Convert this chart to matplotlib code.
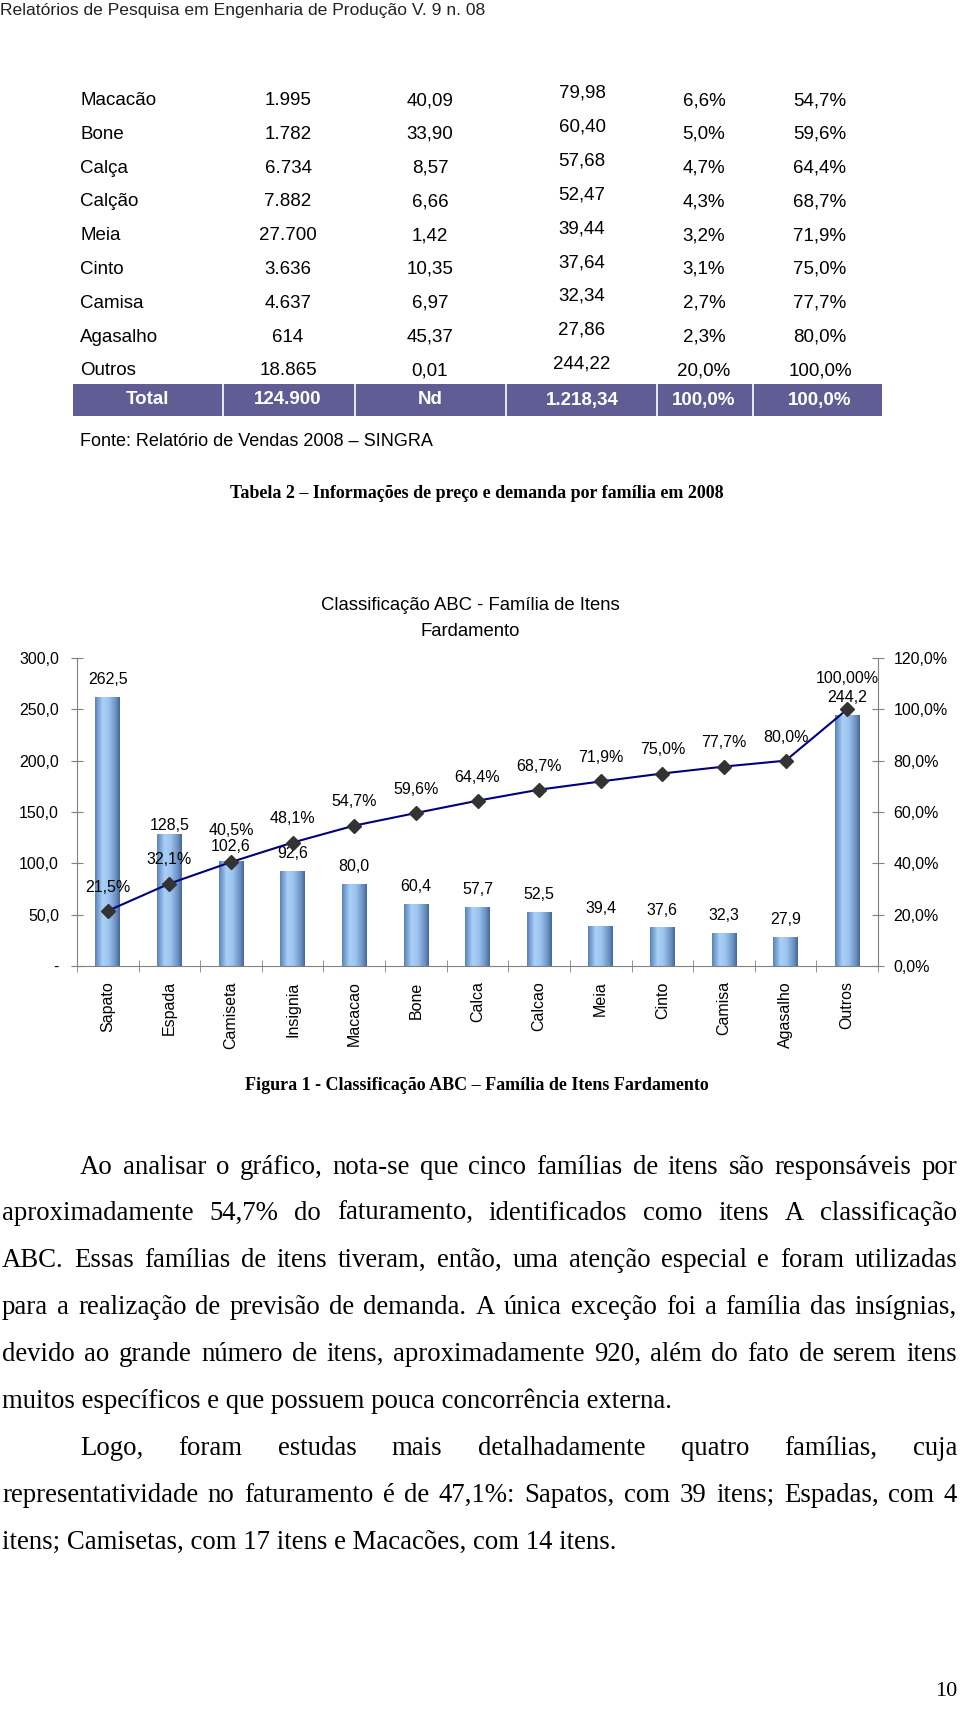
import numpy as np
import matplotlib
matplotlib.use("Agg")
import matplotlib.pyplot as plt
from matplotlib.colors import LinearSegmentedColormap

# ---- table data (Tabela 2) ----
tab_names = ["Macacão", "Bone", "Calça", "Calção", "Meia", "Cinto", "Camisa", "Agasalho", "Outros"]
tab_qtd = ["1.995", "1.782", "6.734", "7.882", "27.700", "3.636", "4.637", "614", "18.865"]
tab_preco = ["40,09", "33,90", "8,57", "6,66", "1,42", "10,35", "6,97", "45,37", "0,01"]
tab_fat = ["79,98", "60,40", "57,68", "52,47", "39,44", "37,64", "32,34", "27,86", "244,22"]
tab_pct = ["6,6%", "5,0%", "4,7%", "4,3%", "3,2%", "3,1%", "2,7%", "2,3%", "20,0%"]
tab_acum = ["54,7%", "59,6%", "64,4%", "68,7%", "71,9%", "75,0%", "77,7%", "80,0%", "100,0%"]
tab_total = ["Total", "124.900", "Nd", "1.218,34", "100,0%", "100,0%"]

# ---- chart data (Figura 1) ----
familias = ["Sapato", "Espada", "Camiseta", "Insignia", "Macacao", "Bone", "Calca",
            "Calcao", "Meia", "Cinto", "Camisa", "Agasalho", "Outros"]
faturamento = [262.5, 128.5, 102.6, 92.6, 80.0, 60.4, 57.7, 52.5, 39.4, 37.6, 32.3, 27.9, 244.2]
acumulado = [21.5, 32.1, 40.5, 48.1, 54.7, 59.6, 64.4, 68.7, 71.9, 75.0, 77.7, 80.0, 100.0]
acum_labels = ["21,5%", "32,1%", "40,5%", "48,1%", "54,7%", "59,6%", "64,4%", "68,7%",
               "71,9%", "75,0%", "77,7%", "80,0%", "100,00%"]

paragrafo1 = [
    "Ao analisar o gráfico, nota-se que cinco famílias de itens são responsáveis por",
    "aproximadamente 54,7% do faturamento, identificados como itens A classificação",
    "ABC. Essas famílias de itens tiveram, então, uma atenção especial e foram utilizadas",
    "para a realização de previsão de demanda.  A única exceção foi a família das insígnias,",
    "devido ao grande número de itens, aproximadamente 920, além do fato de serem itens",
    "muitos específicos e que possuem pouca concorrência externa.",
]
paragrafo2 = [
    "Logo, foram estudas mais detalhadamente quatro famílias, cuja",
    "representatividade no faturamento é de 47,1%: Sapatos, com 39 itens; Espadas, com 4",
    "itens; Camisetas, com 17 itens e Macacões, com 14 itens.",
]

W, H = 960, 1713
fig = plt.figure(figsize=(W / 100, H / 100), dpi=100)
sans = "Liberation Sans"
serif = "Liberation Serif"


def put(x, y, s, **kw):
    kw.setdefault("va", "center")
    return fig.text(x / W, 1 - y / H, s, **kw)


# header
put(0, 10, "Relatórios de Pesquisa em Engenharia de Produção V. 9 n. 08",
    family=sans, fontsize=12.6, ha="left", color="#222222")

# table body
row_y0, row_dy = 100.5, 33.8
col_x = [288, 430, 582, 704, 820]
for i in range(len(tab_names)):
    y = row_y0 + i * row_dy
    put(80, y, tab_names[i], family=sans, fontsize=13.5, ha="left")
    put(col_x[0], y, tab_qtd[i], family=sans, fontsize=13.5, ha="center")
    put(col_x[1], y, tab_preco[i], family=sans, fontsize=13.5, ha="center")
    put(col_x[2], y - 7, tab_fat[i], family=sans, fontsize=13.5, ha="center")
    put(col_x[3], y, tab_pct[i], family=sans, fontsize=13.5, ha="center")
    put(col_x[4], y, tab_acum[i], family=sans, fontsize=13.5, ha="center")

# total band
band = plt.Rectangle((73 / W, 1 - 416 / H), (882 - 73) / W, 32 / H,
                     transform=fig.transFigure, facecolor="#605C94", edgecolor="none")
fig.patches.append(band)
for xd in [223, 355, 506, 657, 753]:
    fig.add_artist(plt.Line2D([xd / W, xd / W], [1 - 416 / H, 1 - 384 / H],
                              transform=fig.transFigure, color="white", lw=1.2))
for xc, s in zip([148] + col_x, tab_total):
    put(xc, 400, s, family=sans, fontsize=13.5, ha="center", color="white", weight="bold")

put(80, 442, "Fonte: Relatório de Vendas 2008 – SINGRA", family=sans, fontsize=13, ha="left")
put(477, 494, "Tabela 2 – Informações de preço e demanda por família em 2008",
    family=serif, fontsize=13, ha="center", weight="bold")

# ---- chart ----
ax_l, ax_r, ax_t, ax_b = 77, 878, 658, 966
ax = fig.add_axes([ax_l / W, 1 - ax_b / H, (ax_r - ax_l) / W, (ax_b - ax_t) / H])
x = np.arange(len(familias))

bar_cmap = LinearSegmentedColormap.from_list(
    "cyl", [(0, "#5A82B8"), (0.3, "#A8D0F8"), (0.55, "#9CC4EE"), (0.85, "#6A8FC0"), (1, "#46679A")])
grad = np.linspace(0, 1, 64).reshape(1, -1)
bars = ax.bar(x, faturamento, width=0.4, color="none", zorder=2)
for b in bars:
    x0, y0, w, h = b.get_x(), b.get_y(), b.get_width(), b.get_height()
    im = ax.imshow(grad, cmap=bar_cmap, aspect="auto", extent=(x0, x0 + w, y0, y0 + h), zorder=2)
    im.set_clip_path(b)

ax.set_xlim(-0.5, len(familias) - 0.5)
ax.set_ylim(0, 300)
ax.set_yticks(np.arange(0, 301, 50))
ax.set_yticklabels(["-"] + [f"{v:.1f}".replace(".", ",") for v in np.arange(50, 301, 50)])
ax.set_xticks(x)
ax.set_xticklabels(familias, rotation=90, family=sans, fontsize=11.5)
ax.set_xticks(np.arange(-0.5, len(familias), 1), minor=True)
ax.tick_params(axis="x", which="major", length=0, pad=11)
ax.tick_params(axis="x", which="minor", direction="inout", length=8, color="#808080")
ax.tick_params(axis="y", direction="inout", length=8, color="#808080", pad=9, labelsize=11.5)
for lab in ax.get_yticklabels():
    lab.set_family(sans)
for sp in ["top", "right"]:
    ax.spines[sp].set_visible(False)
for sp in ["left", "bottom"]:
    ax.spines[sp].set_color("#808080")

for i, v in enumerate(faturamento):
    off = {1: 6.5, 2: 10}.get(i, 12.5)
    ax.annotate(f"{v:.1f}".replace(".", ","), (x[i], v), xytext=(0, off),
                textcoords="offset points", ha="center", va="center",
                family=sans, fontsize=11.5, zorder=5)

ax2 = ax.twinx()
ax2.set_ylim(0, 120)
ax2.set_yticks(np.arange(0, 121, 20))
ax2.set_yticklabels([f"{v:.1f}%".replace(".", ",") for v in np.arange(0, 121, 20)])
ax2.tick_params(axis="y", direction="inout", length=8, color="#808080", pad=7, labelsize=11.5)
for lab in ax2.get_yticklabels():
    lab.set_family(sans)
for sp in ["top", "left", "bottom"]:
    ax2.spines[sp].set_visible(False)
ax2.spines["right"].set_color("#808080")
ax2.plot(x, acumulado, color="#000080", lw=1.5, marker="D", markersize=7,
         markerfacecolor="#333333", markeredgecolor="#333333", zorder=4)
for i, v in enumerate(acumulado):
    off = {2: 23, 12: 22}.get(i, 17)
    ax2.annotate(acum_labels[i], (x[i], v), xytext=(0, off), textcoords="offset points",
                 ha="center", va="center", family=sans, fontsize=11.5)

put(470, 606, "Classificação ABC - Família de Itens", family=sans, fontsize=13.3, ha="center")
put(470, 631, "Fardamento", family=sans, fontsize=13.3, ha="center")

put(477, 1085, "Figura 1 - Classificação ABC – Família de Itens Fardamento",
    family=serif, fontsize=13, ha="center", weight="bold")

# ---- justified body text ----
renderer = fig.canvas.get_renderer()
left, right, indent = 2, 957, 80
body_kw = dict(family=serif, fontsize=19.3, ha="left")


def justify(line, x0, y):
    words = line.split()
    texts = [put(0, y, w, **body_kw) for w in words]
    widths = [t.get_window_extent(renderer).width for t in texts]
    gap = (right - x0 - sum(widths)) / (len(words) - 1)
    xx = x0
    for t, w in zip(texts, widths):
        t.set_x(xx / W)
        xx += w + gap


line_y0, line_dy = 1167, 46.9
k = 0
for par in [paragrafo1, paragrafo2]:
    for j, line in enumerate(par):
        y = line_y0 + k * line_dy
        x0 = indent if j == 0 else left
        if j == len(par) - 1:
            put(x0, y, line, **body_kw)
        else:
            justify(line, x0, y)
        k += 1

put(957, 1692, "10", family=serif, fontsize=16, ha="right")

fig.savefig("out.png", dpi=100)
